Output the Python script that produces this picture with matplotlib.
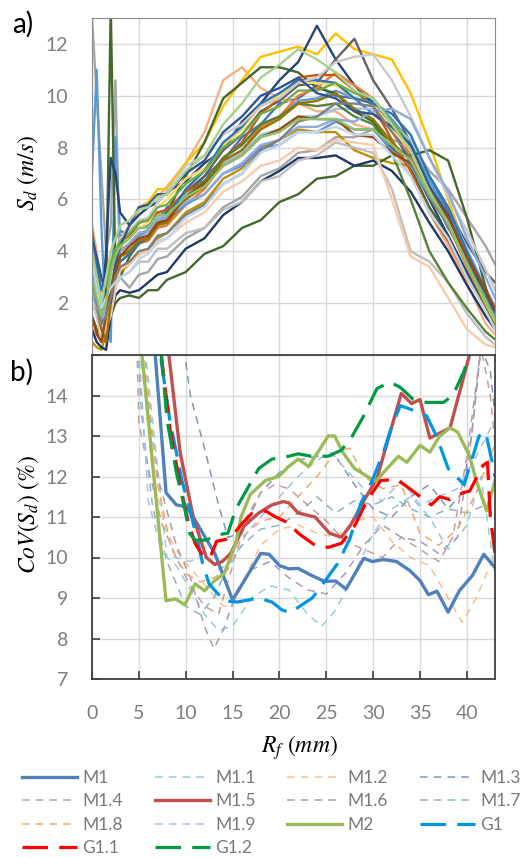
import matplotlib
matplotlib.use("Agg")
import matplotlib.pyplot as plt

plt.rcParams['font.family'] = ['Lato', 'DejaVu Sans']
plt.rcParams['mathtext.fontset'] = 'stix'

# ---------------- panel a) : S_d profiles (m/s) vs R_f (mm) ----------------
rf_a = [0, 0.5, 1, 1.5, 2, 2.5, 3, 4, 5, 6, 7, 8, 10, 12, 14, 16, 18, 20, 22,
        24, 26, 28, 30, 32, 34, 36, 38, 40, 42, 43]

sd_blue = [
    [4.2, 3.0, 1.5, 1.0, 2.8, 4.5, 4.8, 4.6, 5.1, 5.3, 5.1, 5.7, 6.0, 6.9, 7.5, 8.4, 8.9, 9.7, 9.9, 10.4, 10.0, 9.9, 9.3, 8.7, 7.4, 6.3, 4.9, 3.7, 2.1, 1.5],
    [3.5, 2.0, 1.0, 4.0, 7.6, 7.0, 5.5, 5.0, 5.4, 5.7, 5.9, 6.3, 6.7, 7.4, 7.9, 9.0, 9.7, 10.6, 11.3, 12.7, 11.4, 10.4, 9.7, 8.8, 7.4, 6.0, 4.6, 3.2, 1.8, 1.2],
    [1.0, 0.5, 0.3, 0.2, 1.5, 2.3, 2.5, 2.4, 2.5, 2.8, 3.1, 3.2, 4.1, 4.5, 5.4, 5.9, 6.7, 7.1, 7.6, 7.6, 7.7, 7.3, 7.5, 7.1, 6.3, 5.1, 4.0, 2.7, 1.5, 1.0],
    [3.8, 2.5, 2.0, 2.8, 3.5, 3.8, 4.0, 4.3, 4.6, 4.8, 5.2, 5.2, 5.8, 6.2, 7.0, 7.3, 8.0, 8.1, 8.6, 8.6, 9.0, 8.7, 8.7, 7.9, 7.3, 6.1, 5.2, 3.8, 2.4, 1.7],
    [4.5, 3.8, 3.0, 2.4, 2.0, 3.5, 4.2, 5.0, 5.7, 5.8, 6.2, 6.2, 7.0, 7.5, 8.6, 9.2, 10.0, 10.3, 10.7, 10.1, 9.9, 9.4, 9.3, 8.8, 8.1, 6.5, 5.4, 3.7, 2.4, 1.6],
]
sd_orange = [
    [5.0, 4.0, 2.5, 2.0, 3.0, 4.0, 4.5, 5.0, 5.6, 5.8, 6.1, 6.5, 7.4, 8.6, 10.6, 11.1, 10.3, 9.9, 9.7, 9.4, 9.4, 8.9, 8.7, 8.0, 6.9, 5.5, 4.2, 2.8, 1.2, 0.8],
    [2.5, 1.8, 1.0, 1.2, 2.0, 3.0, 3.6, 3.9, 4.3, 4.4, 4.9, 5.0, 5.8, 6.4, 7.4, 7.9, 8.8, 9.2, 10.0, 10.3, 10.9, 10.4, 9.9, 8.9, 7.7, 6.1, 5.0, 3.4, 2.0, 1.4],
    [4.0, 3.0, 2.0, 2.6, 3.2, 4.0, 4.4, 4.6, 5.1, 5.2, 5.5, 5.6, 6.3, 6.7, 7.6, 8.2, 9.3, 9.9, 10.7, 10.8, 10.8, 10.2, 9.6, 8.3, 7.1, 5.5, 4.4, 3.0, 1.8, 1.1],
    [3.0, 1.5, 0.8, 1.0, 1.5, 2.5, 3.3, 3.5, 3.9, 4.0, 4.3, 4.5, 5.1, 5.5, 6.3, 6.7, 7.3, 7.5, 8.0, 7.9, 8.3, 8.2, 8.1, 6.0, 3.8, 3.4, 2.2, 1.0, 0.4, 0.3],
    [1.5, 0.8, 0.5, 1.5, 2.5, 3.2, 3.8, 4.2, 4.5, 4.6, 5.1, 5.2, 6.1, 6.6, 7.3, 7.7, 8.4, 8.7, 9.2, 9.1, 9.1, 8.5, 8.4, 7.8, 7.4, 6.3, 5.3, 3.8, 2.5, 1.8],
]
sd_gray = [
    [13.0, 10.0, 7.0, 4.0, 5.0, 10.6, 3.0, 2.6, 3.1, 3.2, 3.7, 3.8, 4.5, 4.9, 5.7, 6.1, 6.9, 7.2, 7.8, 7.9, 8.4, 8.4, 8.7, 8.3, 8.1, 7.1, 6.4, 5.3, 4.2, 3.5],
    [4.0, 3.0, 1.5, 1.8, 2.5, 3.4, 4.0, 4.3, 4.7, 4.8, 5.3, 5.4, 6.3, 6.9, 7.9, 8.5, 9.4, 9.8, 10.4, 10.5, 11.4, 12.2, 10.6, 9.5, 8.2, 6.9, 5.6, 4.3, 3.2, 2.8],
    [3.0, 1.5, 0.5, 1.0, 2.0, 2.6, 3.0, 3.2, 3.6, 3.6, 4.1, 4.1, 4.7, 4.9, 5.6, 5.9, 6.7, 6.9, 7.5, 7.7, 8.2, 8.0, 7.8, 6.4, 4.0, 3.6, 2.8, 1.6, 0.7, 0.4],
    [2.0, 1.5, 1.0, 2.0, 3.0, 4.0, 4.5, 4.8, 5.2, 5.3, 5.9, 6.3, 7.3, 7.7, 8.5, 8.9, 9.6, 9.9, 10.5, 10.7, 11.3, 11.5, 11.6, 10.6, 9.2, 7.6, 6.1, 4.8, 3.3, 2.5],
    [3.2, 2.0, 1.2, 1.5, 2.2, 3.0, 3.4, 3.6, 4.0, 4.1, 4.6, 4.7, 5.4, 5.8, 6.6, 7.0, 7.9, 8.3, 9.0, 9.2, 9.7, 9.7, 9.6, 8.6, 7.6, 6.1, 5.0, 3.6, 2.1, 1.5],
]
sd_gold = [
    [5.0, 3.0, 2.0, 1.0, 2.0, 3.5, 4.0, 5.0, 5.7, 5.9, 6.4, 6.4, 7.4, 8.2, 9.6, 10.6, 11.5, 11.7, 11.9, 11.6, 12.4, 11.8, 11.6, 11.4, 10.1, 8.2, 6.0, 4.0, 2.2, 1.5],
    [0.5, 0.3, 0.2, 0.8, 1.8, 2.6, 3.2, 3.5, 3.9, 4.0, 4.5, 4.7, 5.5, 5.9, 6.8, 7.2, 8.0, 8.3, 8.7, 8.6, 8.6, 7.9, 7.6, 7.4, 7.3, 6.5, 5.2, 3.8, 2.3, 1.7],
    [2.2, 1.5, 0.8, 1.2, 2.4, 3.4, 4.2, 4.5, 4.9, 5.1, 5.7, 6.0, 6.8, 7.2, 8.1, 8.7, 9.6, 10.0, 10.5, 10.5, 10.4, 9.9, 9.7, 8.7, 7.9, 6.4, 5.2, 3.6, 2.1, 1.3],
    [3.0, 1.8, 1.0, 0.5, 2.0, 3.0, 3.8, 4.0, 4.4, 4.5, 5.0, 5.1, 6.0, 6.5, 7.5, 7.9, 8.7, 9.1, 9.7, 9.8, 10.1, 9.5, 9.1, 8.2, 7.5, 6.2, 5.1, 3.5, 1.9, 1.2],
]
sd_ltblue = [
    [7.0, 11.0, 5.0, 1.0, 0.5, 8.4, 4.6, 4.6, 4.9, 5.0, 5.5, 5.5, 6.3, 6.7, 7.6, 8.1, 8.9, 9.2, 9.8, 9.9, 10.2, 9.9, 9.8, 9.1, 8.2, 6.7, 5.5, 3.9, 2.5, 1.8],
    [3.5, 2.5, 1.5, 2.0, 2.5, 3.2, 3.8, 4.1, 4.5, 4.7, 5.3, 5.4, 6.2, 6.6, 7.4, 7.8, 8.5, 8.7, 9.2, 9.2, 9.5, 9.5, 9.5, 8.9, 8.3, 6.9, 5.7, 4.1, 2.6, 1.9],
    [4.8, 3.5, 2.5, 3.0, 3.5, 3.6, 3.6, 3.9, 4.3, 4.5, 5.1, 5.3, 6.4, 7.1, 8.2, 8.8, 9.7, 10.1, 10.6, 10.6, 10.5, 9.9, 9.7, 9.3, 8.5, 6.9, 5.7, 4.0, 2.5, 1.7],
    [2.5, 1.8, 1.2, 2.0, 3.2, 3.8, 4.0, 4.3, 4.7, 4.8, 5.2, 5.3, 5.9, 6.2, 7.0, 7.4, 8.1, 8.3, 8.8, 8.8, 9.1, 9.0, 9.4, 9.5, 9.1, 7.6, 6.3, 4.5, 3.0, 2.2],
    [3.8, 2.5, 1.8, 2.2, 2.6, 2.8, 3.0, 3.2, 3.7, 3.9, 4.4, 4.5, 5.3, 5.7, 6.6, 7.0, 7.8, 8.1, 8.6, 8.6, 8.8, 8.5, 8.5, 7.7, 6.9, 5.5, 4.5, 3.0, 1.7, 1.0],
]
sd_green = [
    [2.0, 1.8, 1.5, 2.0, 13.5, 3.0, 3.0, 3.8, 4.3, 4.5, 5.1, 5.5, 6.9, 8.2, 9.9, 10.5, 11.1, 11.1, 10.9, 10.3, 10.1, 9.4, 9.0, 8.0, 7.2, 5.7, 4.6, 3.1, 1.9, 1.3],
    [1.5, 1.0, 0.5, 0.8, 1.5, 2.0, 2.2, 2.3, 2.2, 2.5, 2.5, 2.9, 3.2, 3.9, 4.2, 4.9, 5.2, 5.9, 6.2, 6.8, 6.9, 7.3, 7.3, 7.7, 7.7, 7.9, 7.5, 5.3, 2.6, 1.4],
    [2.5, 2.0, 1.2, 1.8, 2.8, 3.5, 3.8, 4.0, 4.4, 4.5, 5.0, 5.2, 6.1, 6.7, 7.6, 8.1, 8.9, 9.2, 9.7, 9.6, 9.7, 9.2, 8.9, 7.8, 6.0, 4.0, 2.8, 1.8, 0.9, 0.6],
    [3.5, 2.5, 2.0, 2.8, 3.6, 4.0, 4.4, 4.7, 5.1, 5.2, 5.7, 5.8, 6.6, 7.1, 8.0, 8.5, 9.3, 9.6, 10.2, 10.2, 10.5, 10.1, 9.9, 9.0, 8.1, 6.5, 5.3, 3.7, 2.3, 1.5],
    [4.0, 3.0, 2.0, 3.0, 4.0, 4.5, 5.0, 5.2, 5.6, 5.7, 6.1, 6.2, 7.1, 7.7, 8.9, 9.7, 10.7, 11.2, 11.8, 11.4, 10.9, 10.2, 9.9, 8.9, 7.9, 6.3, 5.1, 3.5, 2.0, 1.3],
    [3.0, 2.2, 1.5, 2.0, 3.2, 3.8, 4.2, 4.5, 4.9, 4.9, 5.4, 5.4, 6.1, 6.5, 7.3, 7.7, 8.4, 8.6, 9.1, 9.1, 9.1, 8.7, 8.7, 8.1, 7.5, 6.2, 5.1, 3.5, 2.1, 1.4],
]

blue_cols = ['#4472C4', '#264478', '#1F3864', '#698ED0', '#2F5597']
orange_cols = ['#F4B183', '#ED7D31', '#C55A11', '#F8CBAD', '#9E480E']
gray_cols = ['#A5A5A5', '#636363', '#BFBFBF', '#C9C9C9', '#7F7F7F']
gold_cols = ['#FFC000', '#BF9000', '#FFD966', '#997300']
ltblue_cols = ['#5B9BD5', '#9DC3E6', '#2E75B6', '#8FAADC', '#BDD7EE']
green_cols = ['#43682B', '#43682B', '#548235', '#70AD47', '#A9D18E', '#8CC168']

# ---------------- panel b) : CoV(S_d) (%) vs R_f (mm) ----------------
m1_x = [6.0, 7.9, 9.0, 10.1, 10.8, 13.1, 15.0, 18.0, 18.9, 20.0, 21.0, 22.0, 23.4, 24.8, 26.0, 27.1, 29.0, 29.9, 31.1, 32.5, 33.9, 35.0, 35.9, 36.8, 38.0, 39.2, 40.6, 41.8, 43.0]
m1_y = [17.2, 11.6, 11.3, 11.25, 11.0, 10.1, 8.95, 10.1, 10.08, 9.8, 9.72, 9.73, 9.56, 9.41, 9.42, 9.22, 9.98, 9.9, 9.95, 9.9, 9.68, 9.43, 9.08, 9.17, 8.65, 9.18, 9.56, 10.08, 9.75]
m11_x = [5.5, 7, 8, 9, 10, 12, 13.5, 15, 17, 19, 21, 23, 24.5, 26, 28, 30, 32, 34, 36, 38, 40, 41.5, 43]
m11_y = [15.5, 12.2, 10.0, 9.8, 9.4, 8.6, 8.2, 8.3, 9.0, 9.3, 9.2, 8.6, 8.3, 8.7, 9.6, 10.6, 11.2, 11.5, 11.0, 10.2, 10.8, 12.0, 9.6]
m12_x = [5, 6.5, 8, 9.5, 11, 12.5, 14, 15, 16.5, 18, 20, 22, 24, 26, 28, 30, 32, 34, 36, 38, 39.5, 41, 43]
m12_y = [15.5, 12.0, 10.6, 10.0, 9.6, 9.2, 8.8, 8.8, 9.6, 10.3, 10.7, 10.8, 10.6, 10.5, 10.9, 11.0, 10.4, 10.0, 9.8, 9.0, 8.4, 9.0, 10.1]
m13_x = [9.0, 10.5, 12, 13.5, 14.5, 16, 18, 20, 22, 24, 26, 28, 30, 32, 34, 36, 38, 39.5, 40.5, 41.5, 42.5, 43]
m13_y = [16.5, 14.0, 12.7, 11.3, 10.5, 10.6, 11.6, 12.1, 12.4, 12.5, 12.5, 11.8, 11.2, 11.0, 11.5, 11.8, 11.2, 11.6, 13.0, 15.2, 14.6, 13.5]
m14_x = [4.8, 5, 6, 7.5, 9, 10.5, 12, 13.5, 15, 16.5, 18, 19.5, 21, 23, 25, 27, 29, 31, 33, 35, 37, 38.5, 40, 41.5, 42.5, 43]
m14_y = [15.2, 13.3, 12.2, 10.8, 10.0, 9.3, 8.8, 8.6, 9.8, 11.0, 11.6, 11.8, 11.7, 11.3, 10.9, 10.4, 10.2, 10.0, 10.5, 10.2, 9.9, 10.5, 12.5, 15.2, 14.0, 12.8]
m15_x = [7.6, 8.2, 9.4, 10.8, 12.2, 13.1, 13.9, 14.8, 16.2, 17.8, 19.2, 20.4, 21.0, 22.0, 23.8, 25.35, 26.6, 27.6, 29.0, 30.4, 31.7, 33.0, 34.1, 35.0, 36.05, 38.2, 40.4, 41.0]
m15_y = [16.0, 15.0, 12.6, 11.0, 10.0, 9.83, 9.9, 10.1, 10.77, 11.1, 11.3, 11.38, 11.35, 11.1, 11.0, 10.6, 10.5, 10.8, 11.4, 11.95, 13.0, 14.05, 13.8, 13.9, 12.95, 13.2, 15.1, 16.0]
m16_x = [5.2, 7, 9, 10.5, 12, 13, 14, 15.5, 17, 19, 21, 23, 25, 27, 29, 31, 33, 35, 37, 39, 40.5, 41.5]
m16_y = [15.2, 12.0, 10.3, 9.5, 8.3, 7.75, 8.2, 9.2, 9.7, 9.9, 9.5, 9.2, 9.1, 9.6, 10.3, 10.8, 10.5, 10.4, 10.1, 10.5, 13.0, 15.2]
m17_x = [4.9, 5.3, 6.5, 8, 10, 11.5, 13, 14.5, 16, 18, 20, 22, 24, 26, 28, 30, 32, 34, 36, 38, 40, 42, 43]
m17_y = [15.2, 13.5, 11.2, 9.9, 8.8, 8.6, 9.0, 9.8, 10.3, 10.7, 10.8, 11.1, 11.5, 11.1, 11.4, 11.3, 11.5, 11.2, 11.0, 11.2, 11.1, 11.3, 11.0]
m18_x = [5.5, 7, 8.5, 10, 11.5, 13, 14.5, 16, 18, 20, 22, 24, 26, 27.5, 29, 31, 33, 35, 37, 39, 41, 43]
m18_y = [15.2, 11.8, 10.2, 9.6, 9.4, 9.5, 9.7, 10.5, 10.9, 11.0, 11.5, 12.0, 12.6, 12.7, 12.0, 11.7, 11.8, 10.6, 10.3, 10.7, 11.6, 12.8]
m19_x = [5, 6, 7.5, 9, 10.5, 12, 13.5, 15, 16.5, 18, 20, 22, 24, 25.5, 27, 29, 31, 33, 35, 37, 39, 41, 43]
m19_y = [15.2, 11.4, 10.1, 10.0, 9.9, 10.1, 9.7, 9.9, 10.6, 11.0, 11.5, 12.0, 12.4, 12.6, 12.2, 11.7, 11.4, 11.9, 11.3, 11.5, 11.7, 12.5, 13.4]
m2_x = [5.0, 7.9, 8.9, 9.9, 11.0, 12.0, 13.1, 14.1, 15.35, 15.9, 16.9, 18.5, 19.9, 21.0, 22.0, 23.1, 24.1, 25.2, 25.9, 26.75, 28.0, 29.4, 30.3, 31.1, 32.7, 33.6, 35.0, 36.05, 37.1, 38.2, 39.0, 40.3, 41.0, 42.1, 43.0]
m2_y = [15.8, 8.93, 8.98, 8.83, 9.35, 9.18, 9.43, 9.6, 10.35, 11.0, 11.56, 11.9, 12.0, 12.25, 12.43, 12.25, 12.6, 13.0, 13.0, 12.6, 12.2, 12.0, 11.88, 12.1, 12.5, 12.35, 12.77, 12.6, 13.0, 13.2, 13.1, 12.5, 11.9, 11.15, 11.9]
g1_x = [6.8, 7.3, 8.3, 9.6, 10.4, 11.3, 11.8, 12.5, 14.1, 15.5, 17.8, 19.2, 20.3, 21.3, 22.0, 23.5, 24.8, 26.2, 27.5, 28.7, 29.9, 31.1, 32.0, 32.9, 34.1, 35.7, 36.75, 38.0, 39.7, 41.3, 42.0, 42.7, 43.0]
g1_y = [15.8, 15.0, 13.4, 11.9, 11.2, 10.4, 9.85, 9.35, 8.93, 8.9, 9.0, 8.9, 8.7, 8.64, 8.77, 9.0, 9.4, 9.85, 10.45, 11.35, 11.9, 12.6, 13.25, 13.75, 13.65, 13.5, 13.0, 12.2, 11.8, 13.0, 13.1, 12.35, 12.0]
g11_x = [6.8, 7.5, 8.3, 9.4, 10.3, 11.0, 11.8, 12.6, 13.3, 14.3, 15.0, 16.05, 17.1, 18.5, 19.6, 21.0, 22.0, 23.8, 25.2, 26.6, 28.0, 29.4, 30.8, 32.5, 33.9, 35.4, 36.2, 37.1, 38.2, 39.6, 40.3, 41.7, 42.2, 42.5, 43.0]
g11_y = [16.0, 14.8, 13.2, 11.8, 10.85, 10.35, 10.05, 10.0, 10.4, 10.45, 10.55, 10.85, 11.1, 11.15, 11.0, 10.85, 10.6, 10.3, 10.25, 10.35, 10.77, 11.43, 11.9, 11.93, 11.7, 11.43, 11.3, 11.5, 11.43, 11.6, 11.64, 12.27, 12.35, 11.0, 10.1]
g12_x = [6.8, 7.4, 8.0, 9.0, 9.9, 10.4, 11.0, 12.2, 13.4, 14.5, 15.35, 16.75, 17.8, 19.2, 21.0, 22.0, 23.4, 25.2, 26.6, 27.6, 29.0, 30.4, 31.8, 32.9, 34.3, 35.7, 37.5, 38.5, 39.7, 40.3, 40.8]
g12_y = [16.0, 15.0, 13.4, 12.1, 11.2, 10.6, 10.43, 10.43, 10.56, 10.6, 11.2, 11.77, 12.2, 12.43, 12.5, 12.56, 12.5, 12.5, 12.65, 12.93, 13.5, 14.17, 14.33, 14.2, 13.9, 13.83, 13.83, 14.0, 14.6, 15.1, 16.0]

# label, x, y, colour, kind ('thick', 'thin', 'long')
cov_series = [
    ('M1.1', m11_x, m11_y, '#92CDDC', 'thin'),
    ('M1.2', m12_x, m12_y, '#FAC090', 'thin'),
    ('M1.3', m13_x, m13_y, '#8096B4', 'thin'),
    ('M1.4', m14_x, m14_y, '#C4A09C', 'thin'),
    ('M1.6', m16_x, m16_y, '#A89BB8', 'thin'),
    ('M1.7', m17_x, m17_y, '#8EB4C3', 'thin'),
    ('M1.8', m18_x, m18_y, '#F0A870', 'thin'),
    ('M1.9', m19_x, m19_y, '#A7C0E8', 'thin'),
    ('M1', m1_x, m1_y, '#4F81BD', 'thick'),
    ('M1.5', m15_x, m15_y, '#C0504D', 'thick'),
    ('M2', m2_x, m2_y, '#9BBB59', 'thick'),
    ('G1', g1_x, g1_y, '#0096E6', 'long'),
    ('G1.1', g11_x, g11_y, '#FF0000', 'long'),
    ('G1.2', g12_x, g12_y, '#009A44', 'long'),
]
# legend columns as laid out in the figure (left edge in px)
legend_cols = [
    (22, ['M1', 'M1.4', 'M1.8', 'G1.1']),
    (155, ['M1.1', 'M1.5', 'M1.9', 'G1.2']),
    (287, ['M1.2', 'M1.6', 'M2']),
    (420, ['M1.3', 'M1.7', 'G1']),
]

styles = {
    'thin': dict(lw=1.1, ls=(0, (5, 4))),
    'thick': dict(lw=2.4, ls='-'),
    'long': dict(lw=2.3, ls=(0, (8, 3.5))),
}

tick_col = '#7F7F7F'
grid_col = '#D9D9D9'

fig = plt.figure(figsize=(5.31, 8.58), dpi=100)
W, H = 531.0, 858.0
ax_a = fig.add_axes([92 / W, 1 - 355 / H, 403 / W, 337 / H])
ax_b = fig.add_axes([92 / W, 1 - 679 / H, 403 / W, 324 / H])

# ---- panel a
groups = [(sd_blue, blue_cols), (sd_orange, orange_cols), (sd_gray, gray_cols),
          (sd_gold, gold_cols), (sd_ltblue, ltblue_cols), (sd_green, green_cols)]
for k in range(6):
    for grp, cols in groups:
        if k < len(grp):
            ax_a.plot(rf_a, grp[k], color=cols[k], lw=1.7, solid_joinstyle='round')

ax_a.set_xlim(0, 43)
ax_a.set_ylim(0, 13)
ax_a.set_xticks(range(0, 45, 5))
ax_a.set_yticks([2, 4, 6, 8, 10, 12])
ax_a.set_xticklabels([])
ax_a.grid(True, color=grid_col, lw=1.0)
ax_a.set_axisbelow(True)
ax_a.tick_params(length=0, labelsize=14, labelcolor=tick_col, pad=17)
for s in ['left', 'top', 'right']:
    ax_a.spines[s].set_color('#8C8C8C')
ax_a.spines['bottom'].set_visible(False)

# ---- panel b
handles = {}
for name, xs, ys, col, kind in cov_series:
    ln, = ax_b.plot(xs, ys, color=col, **styles[kind])
    handles[name] = ln

ax_b.set_xlim(0, 43)
ax_b.set_ylim(7, 15)
ax_b.set_xticks(range(0, 45, 5))
ax_b.set_yticks(range(7, 16))
ax_b.set_yticklabels([str(v) for v in range(7, 15)] + [''])
ax_b.grid(True, color=grid_col, lw=1.0)
ax_b.set_axisbelow(True)
ax_b.tick_params(direction='in', length=6, width=1.2, color='#404040',
                 labelsize=14, labelcolor=tick_col)
ax_b.tick_params(axis='x', pad=19)
ax_b.tick_params(axis='y', pad=17)
for s in ax_b.spines.values():
    s.set_color('#404040')
    s.set_linewidth(1.3)

# ---- labels
fig.text(12 / W, 1 - 24 / H, 'a)', fontsize=20, va='center', ha='left')
fig.text(10 / W, 1 - 372 / H, 'b)', fontsize=20, va='center', ha='left')
fig.text(28 / W, 1 - 173 / H, r'$S_d\ (m/s)$', fontsize=17, rotation=90,
         va='center', ha='center')
fig.text(28 / W, 1 - 515 / H, r'$CoV(S_d)\ (\%)$', fontsize=17, rotation=90,
         va='center', ha='center')
fig.text(299 / W, 1 - 748 / H, r'$R_f\ (mm)$', fontsize=17, va='center', ha='center')

# ---- legend, one block per column
for x0, names in legend_cols:
    leg = fig.legend([handles[n] for n in names], names, ncol=1,
                     loc='upper left', bbox_to_anchor=(x0 / W, 1 - 770 / H),
                     frameon=False, fontsize=12.5, handlelength=3.17,
                     handletextpad=0.3, labelspacing=0.42,
                     borderpad=0, borderaxespad=0)
    for t in leg.get_texts():
        t.set_color('#7A7A7A')

fig.savefig('out.png', dpi=100)
